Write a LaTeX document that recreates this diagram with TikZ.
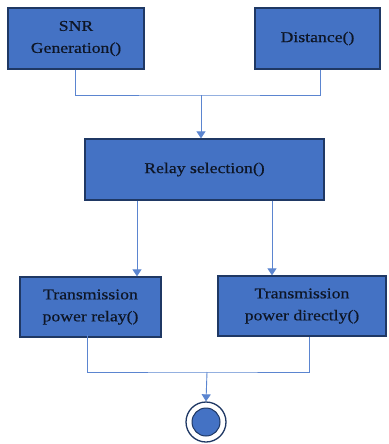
\documentclass[tikz,border=0pt]{standalone}
\usepackage{fontspec}
\setmainfont{Liberation Serif}[FakeStretch=1.18,FakeBold=0.5]
\usetikzlibrary{arrows.meta}
\definecolor{boxfill}{HTML}{4472C4}
\definecolor{boxline}{HTML}{1F3864}
\definecolor{wire}{HTML}{5B85D0}
\definecolor{ink}{HTML}{0E1626}
\tikzset{
  block/.style={draw=boxline, line width=1.3pt, fill=boxfill, text=ink,
    inner sep=0pt, align=center, font=\fontsize{15}{22}\selectfont},
  wireline/.style={draw=wire, line width=0.9pt},
  flow/.style={wireline, -{Triangle[width=9pt,length=7pt]}},
}
\begin{document}
\begin{tikzpicture}[x=1pt,y=-1pt]
  \useasboundingbox (0,0) rectangle (388,444);
  % input blocks
  \node[block, minimum width=136pt, minimum height=61pt] (snr) at (76,38.5) {SNR\\Generation()};
  \node[block, minimum width=125pt, minimum height=61pt] (dist) at (317.5,38.5) {Distance()};
  % selection block
  \node[block, minimum width=239pt, minimum height=61pt] (relay) at (204.5,169.5) {Relay selection()};
  % output blocks
  \node[block, minimum width=141pt, minimum height=60pt] (tpr) at (90.5,307) {Transmission\\power relay()};
  \node[block, minimum width=168pt, minimum height=60pt] (tpd) at (302,306) {Transmission\\power directly()};
  % final state
  \node[circle, draw=boxline, line width=1.3pt, fill=white, minimum size=40pt, inner sep=0pt] (end) at (206,422) {};
  \node[circle, draw=boxline, line width=1pt, fill=boxfill, minimum size=28pt, inner sep=0pt] (endin) at (end.center) {};
  % join of the inputs
  \coordinate (j1) at (201,95);
  \draw[wireline] (snr.south -| 75,0) |- (j1) -| (dist.south -| 320,0);
  \draw[flow] (j1) -- (relay.north -| j1);
  % split to the outputs
  \draw[flow] (relay.south -| 137,0) -- (tpr.north -| 137,0);
  \draw[flow] (relay.south -| 272,0) -- (tpd.north -| 272,0);
  % join of the outputs
  \coordinate (j2) at (207,372);
  \draw[wireline] ([yshift=3pt]tpr.south -| 87,0) |- (j2) -| (tpd.south -| 309,0);
  \draw[flow] (j2) -- (end.north);
\end{tikzpicture}
\end{document}
